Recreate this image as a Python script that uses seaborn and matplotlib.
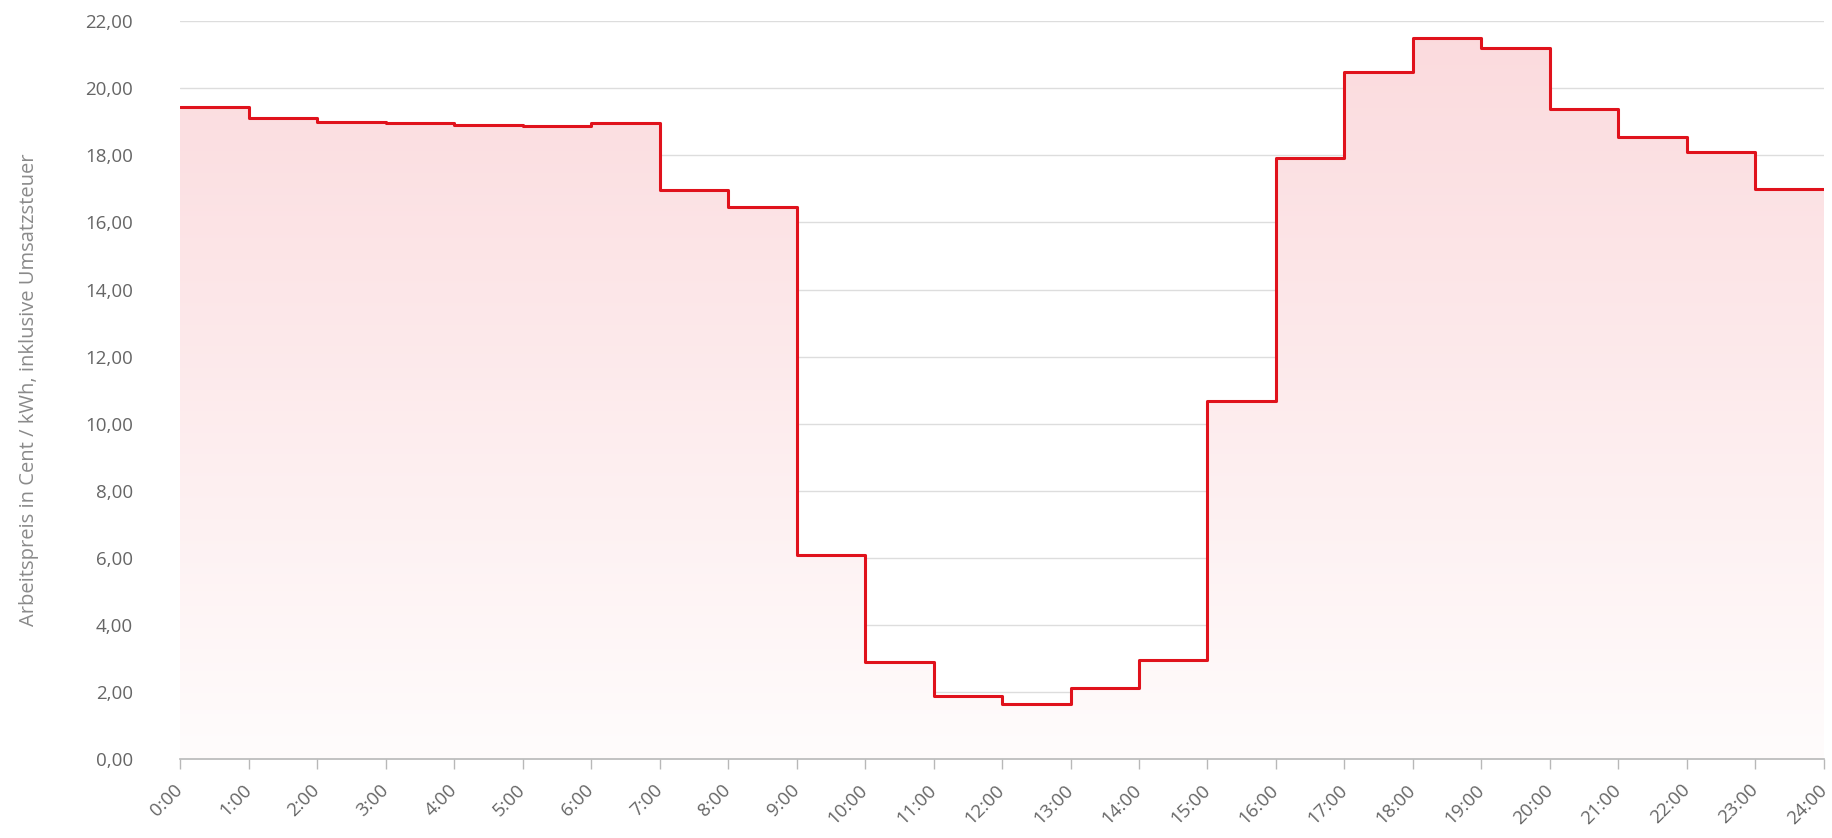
import matplotlib
matplotlib.use("Agg")
import matplotlib.pyplot as plt
import numpy as np
import pandas as pd
import seaborn as sns
from matplotlib.colors import LinearSegmentedColormap
from matplotlib.ticker import FuncFormatter, MultipleLocator
from matplotlib.transforms import ScaledTranslation

sns.set_theme(style="white")
plt.rcParams["font.family"] = ["Open Sans", "DejaVu Sans"]

# hourly working price, cent/kWh incl. VAT (value valid from hour h to h+1)
hours = list(range(25))
prices = [19.45, 19.12, 19.00, 18.96, 18.90, 18.86, 18.97, 16.95, 16.46, 6.09,
          2.89, 1.88, 1.64, 2.12, 2.96, 10.69, 17.93, 20.47, 21.48, 21.20,
          19.39, 18.55, 18.10, 16.99]
prices = prices + [prices[-1]]
hour_labels = [f"{h}:00" for h in hours]

df = pd.DataFrame({"hour": hours, "price": prices})

line_color = "#e0121c"
text_color = "#666666"

fig = plt.figure(figsize=(18.32, 8.38), dpi=100)
ax = fig.add_axes([0.0983, 0.0937, 0.8973, 0.8813])

# gradient fill under the step line
cmap = LinearSegmentedColormap.from_list("fade", ["#fffcfc", "#fbdadd"])
grad = np.linspace(0, 1, 256).reshape(-1, 1)
img = ax.imshow(grad, cmap=cmap, aspect="auto", origin="lower",
                extent=[0, 24, 0, 22], zorder=1)
poly = ax.fill_between(df["hour"], df["price"], 0, step="post",
                       color="none", lw=0)
clip = poly.get_paths()[0]
img.set_clip_path(clip, transform=ax.transData)

sns.lineplot(data=df, x="hour", y="price", drawstyle="steps-post",
             color=line_color, lw=2.2, ax=ax, zorder=3)

ax.set_xlim(0, 24)
ax.set_ylim(0, 22)
ax.yaxis.set_major_locator(MultipleLocator(2))
ax.yaxis.set_major_formatter(FuncFormatter(lambda v, _: f"{v:.2f}".replace(".", ",")))
ax.set_xticks(hours)
ax.set_xticklabels(hour_labels, rotation=45, ha="right", va="center",
                   rotation_mode="anchor")
shift = ScaledTranslation(-3 / 100, 0, fig.dpi_scale_trans)
for lab in ax.get_xticklabels():
    lab.set_transform(lab.get_transform() + shift)

ax.grid(axis="y", color="#dddddd", lw=1)
ax.set_axisbelow(True)
for side in ["left", "right", "top"]:
    ax.spines[side].set_visible(False)
ax.spines["bottom"].set_color("#b8b8b8")
ax.spines["bottom"].set_linewidth(1.2)

ax.tick_params(axis="x", colors=text_color, labelsize=13.5, length=7, width=1,
               color="#b8b8b8", direction="out", bottom=True, pad=13)
ax.tick_params(axis="y", colors=text_color, labelsize=13.5, length=0, pad=34)

ax.set_xlabel("")
ax.set_ylabel("Arbeitspreis in Cent / kWh, inklusive Umsatzsteuer",
              color="#8a8a8a", fontsize=14.5)
ax.yaxis.set_label_coords(-0.086, 0.5)

fig.savefig("out.png", dpi=100)
